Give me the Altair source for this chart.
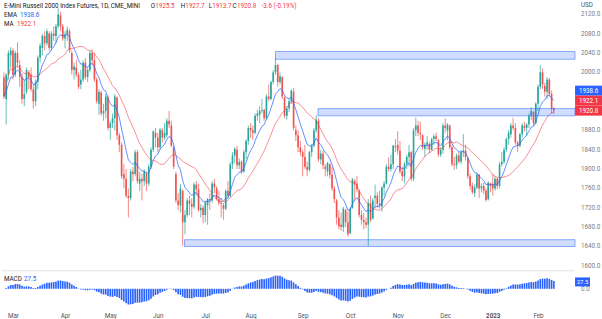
import altair as alt
import pandas as pd

# ---------------- data (daily OHLC, 23 Feb 2022 - 10 Feb 2023) ----------------
opens = [
    1990, 1945, 1995, 2035,
    2045, 1995, 2040, 2015, 1990, 1945, 1960, 2000, 1995, 1965, 1940, 1980, 2030, 2050, 2075, 2060, 2080, 2050, 2080, 2075, 2095, 2118, 2095,
    2070, 2078, 2085, 2040, 2005, 2010, 1995, 1975, 1985, 2020, 1990, 2005, 2040, 2025, 1985, 1935, 1958, 1915, 1920, 1948,
    1885, 1895, 1905, 1948, 1870, 1850, 1790, 1780, 1745, 1740, 1795, 1790, 1835, 1770, 1780, 1775, 1790, 1770, 1805, 1840, 1875,
    1865, 1845, 1880, 1865, 1870, 1900, 1890, 1845, 1790, 1735, 1725, 1755, 1690, 1705, 1735, 1728, 1722, 1768, 1758, 1715, 1720,
    1705, 1725, 1738, 1735, 1770, 1760, 1738, 1730, 1725, 1718, 1755, 1745, 1810, 1828, 1840, 1808, 1815, 1795, 1835, 1858,
    1885, 1880, 1875, 1910, 1912, 1920, 1922, 1905, 1950, 1945, 1980, 2000, 2015, 1980, 1990, 1948, 1910, 1925, 1940, 1960, 1880, 1870, 1845,
    1835, 1825, 1805, 1798, 1835, 1848, 1880, 1900, 1820, 1832, 1805, 1795, 1810, 1788, 1760, 1735, 1700, 1685, 1680, 1715, 1690,
    1668, 1720, 1775, 1770, 1755, 1705, 1695, 1690, 1685, 1730, 1698, 1740, 1745, 1728, 1722, 1762, 1770, 1805, 1800, 1810, 1848,
    1850, 1838, 1795, 1785, 1810, 1825, 1835, 1780, 1880, 1890, 1875, 1870, 1842, 1850, 1852, 1840, 1862, 1868, 1860, 1830, 1840,
    1890, 1880, 1890, 1845, 1810, 1808, 1828, 1815, 1835, 1838, 1822, 1785, 1765, 1750, 1762, 1788, 1760, 1765, 1755, 1738, 1770,
    1770, 1760, 1780, 1765, 1810, 1815, 1840, 1862, 1872, 1890, 1885, 1855, 1848, 1872, 1890, 1885, 1892, 1910, 1918, 1895,
    1935, 1970, 2000, 1972, 1960, 1985, 1955, 1925.5,
]
highs = [
    2000, 1998, 2045, 2052,
    2050, 2045, 2062, 2025, 1998, 1985, 2010, 2005, 2010, 1975, 1985, 2035, 2060, 2080, 2085, 2090, 2085, 2085, 2095, 2100, 2132, 2125, 2100,
    2085, 2095, 2090, 2045, 2020, 2025, 2000, 2005, 2025, 2030, 2010, 2045, 2048, 2040, 1990, 1965, 1962, 1935, 1955, 1952,
    1900, 1915, 1955, 1950, 1875, 1855, 1810, 1800, 1760, 1800, 1805, 1840, 1840, 1795, 1790, 1800, 1795, 1810, 1845, 1880, 1885,
    1875, 1885, 1885, 1895, 1905, 1920, 1900, 1848, 1795, 1750, 1770, 1758, 1715, 1740, 1745, 1740, 1772, 1775, 1770, 1728, 1725,
    1735, 1740, 1750, 1775, 1780, 1765, 1755, 1740, 1730, 1758, 1775, 1815, 1835, 1845, 1848, 1822, 1818, 1840, 1862, 1890,
    1895, 1890, 1915, 1922, 1930, 1945, 1925, 1955, 1975, 1982, 2005, 2030, 2018, 2000, 1992, 1950, 1930, 1945, 1965, 1968, 1890, 1880, 1858,
    1840, 1850, 1815, 1838, 1852, 1885, 1912, 1905, 1840, 1838, 1810, 1815, 1812, 1805, 1765, 1738, 1715, 1710, 1722, 1718, 1712,
    1722, 1782, 1780, 1785, 1758, 1715, 1710, 1700, 1738, 1745, 1740, 1768, 1752, 1755, 1765, 1775, 1810, 1825, 1830, 1850, 1862,
    1878, 1858, 1805, 1815, 1830, 1850, 1838, 1885, 1906, 1900, 1898, 1872, 1855, 1868, 1856, 1865, 1872, 1875, 1862, 1845, 1895,
    1905, 1895, 1892, 1850, 1825, 1832, 1835, 1840, 1872, 1850, 1825, 1790, 1772, 1768, 1792, 1790, 1770, 1772, 1760, 1775, 1772,
    1790, 1785, 1782, 1815, 1835, 1845, 1865, 1880, 1895, 1906, 1895, 1858, 1875, 1895, 1898, 1895, 1915, 1928, 1920, 1938,
    1975, 2015, 2008, 1978, 1990, 1988, 1962, 1927.7,
]
lows = [
    1945, 1892, 1985, 2010,
    1985, 1990, 2010, 1970, 1935, 1930, 1955, 1965, 1960, 1925, 1930, 1965, 2020, 2035, 2045, 2055, 2045, 2045, 2065, 2060, 2090, 2085, 2065,
    2050, 2065, 2040, 1995, 1985, 1990, 1965, 1965, 1980, 1985, 1980, 2000, 2015, 1980, 1935, 1912, 1910, 1900, 1905, 1880,
    1860, 1885, 1880, 1860, 1835, 1780, 1760, 1740, 1700, 1735, 1775, 1785, 1770, 1755, 1735, 1765, 1755, 1765, 1800, 1835, 1845,
    1835, 1840, 1855, 1860, 1865, 1885, 1845, 1800, 1730, 1715, 1710, 1641, 1665, 1700, 1705, 1700, 1718, 1745, 1712, 1700, 1688,
    1690, 1685, 1715, 1730, 1750, 1735, 1725, 1700, 1695, 1715, 1740, 1742, 1800, 1812, 1800, 1800, 1790, 1792, 1820, 1850,
    1865, 1860, 1872, 1900, 1895, 1915, 1900, 1902, 1940, 1942, 1975, 1995, 1970, 1975, 1945, 1905, 1902, 1918, 1935, 1880, 1858, 1835, 1828,
    1785, 1800, 1785, 1795, 1825, 1845, 1875, 1815, 1810, 1800, 1785, 1785, 1780, 1755, 1730, 1685, 1675, 1672, 1670, 1680, 1660,
    1665, 1718, 1735, 1752, 1700, 1685, 1675, 1678, 1641, 1690, 1695, 1720, 1720, 1718, 1712, 1745, 1768, 1795, 1795, 1800, 1835,
    1830, 1790, 1775, 1770, 1800, 1805, 1775, 1775, 1868, 1868, 1860, 1840, 1825, 1840, 1832, 1838, 1850, 1858, 1825, 1825, 1832,
    1875, 1860, 1840, 1805, 1798, 1800, 1812, 1810, 1825, 1818, 1780, 1758, 1748, 1742, 1758, 1740, 1752, 1748, 1732, 1735, 1752,
    1745, 1755, 1758, 1760, 1805, 1810, 1835, 1850, 1865, 1880, 1850, 1835, 1845, 1865, 1878, 1868, 1885, 1902, 1890, 1892,
    1920, 1965, 1965, 1950, 1945, 1950, 1915, 1913.7,
]
closes = [
    1950, 1995, 2040, 2045,
    1995, 2040, 2020, 1990, 1945, 1955, 2005, 1990, 1965, 1940, 1980, 2030, 2055, 2075, 2060, 2085, 2050, 2080, 2075, 2095, 2120, 2095, 2070,
    2078, 2088, 2045, 2005, 2012, 1995, 1970, 1985, 2020, 1990, 2005, 2040, 2025, 1985, 1940, 1960, 1915, 1920, 1950, 1885,
    1895, 1905, 1950, 1870, 1850, 1785, 1780, 1745, 1740, 1795, 1790, 1835, 1775, 1780, 1775, 1795, 1770, 1805, 1840, 1878, 1865,
    1845, 1882, 1865, 1875, 1900, 1892, 1848, 1805, 1735, 1725, 1760, 1690, 1705, 1735, 1728, 1722, 1768, 1758, 1715, 1720, 1705,
    1730, 1738, 1735, 1770, 1762, 1738, 1730, 1728, 1718, 1755, 1745, 1810, 1828, 1842, 1808, 1815, 1795, 1835, 1858, 1885,
    1880, 1875, 1910, 1915, 1920, 1922, 1905, 1950, 1945, 1980, 2000, 2015, 1980, 1992, 1950, 1910, 1925, 1940, 1962, 1885, 1870, 1845, 1835,
    1825, 1805, 1798, 1835, 1848, 1880, 1902, 1820, 1832, 1808, 1800, 1812, 1788, 1760, 1738, 1700, 1682, 1680, 1718, 1690, 1665,
    1718, 1778, 1770, 1758, 1705, 1695, 1690, 1685, 1730, 1695, 1735, 1745, 1728, 1725, 1762, 1770, 1805, 1800, 1810, 1848, 1845,
    1838, 1795, 1785, 1810, 1825, 1835, 1780, 1880, 1890, 1875, 1872, 1845, 1850, 1855, 1840, 1862, 1868, 1862, 1830, 1840, 1890,
    1885, 1892, 1845, 1810, 1808, 1828, 1815, 1835, 1838, 1825, 1785, 1765, 1752, 1762, 1788, 1760, 1765, 1755, 1736, 1772, 1765,
    1760, 1780, 1765, 1810, 1815, 1840, 1862, 1875, 1890, 1885, 1855, 1848, 1872, 1890, 1885, 1892, 1910, 1920, 1895, 1935,
    1970, 2000, 1975, 1960, 1985, 1955, 1924.4, 1920.8,
]
holidays = ["2022-04-15", "2022-05-30", "2022-06-20", "2022-07-04", "2022-09-05",
            "2022-11-24", "2022-12-26", "2023-01-02", "2023-01-16"]

month_names = ["Mar", "Apr", "May", "Jun", "Jul", "Aug", "Sep", "Oct", "Nov", "Dec", "2023", "Feb"]

# price-axis labels shown (those under the price tags are hidden, as in the reference)
price_ticks = [2120, 2080, 2040, 2000, 1880, 1840, 1800, 1760, 1720, 1680, 1640, 1600]

# horizontal zones (price bands) and the bar where each starts
zone_lo = [2027, 1910, 1640]
zone_hi = [2043, 1925, 1654]
zone_start = [120, 138.8, 79.8]

# header / legend values
legend_ema = "1938.6"
legend_ma = "1922.1"
legend_macd = "27.5"
tag_values = [1938.6, 1922.1, 1920.8]
macd_tag_value = 27.5

# ---------------- build tables ----------------
days = [d for d in pd.bdate_range("2022-02-23", "2023-02-10") if d.strftime("%Y-%m-%d") not in holidays]
n = min(len(days), len(opens), len(highs), len(lows), len(closes))
df = pd.DataFrame({"i": list(range(n)), "o": opens[:n], "h": highs[:n], "l": lows[:n], "c": closes[:n]})
df["dir"] = ["up" if c >= o else "down" for o, c in zip(df.o, df.c)]
df["x0"] = df.i - 0.36
df["x1"] = df.i + 0.36
df["ema"] = df.c.ewm(span=9, adjust=False).mean()
df["ma"] = df.c.rolling(20, min_periods=1).mean()
df["macd"] = df.c.ewm(span=12, adjust=False).mean() - df.c.ewm(span=26, adjust=False).mean()
df["zero"] = 0.0

month_idx = []
seen = set()
for k, d in enumerate(days[:n]):
    key = (d.year, d.month)
    if key not in seen:
        seen.add(key)
        if not (d.year == 2022 and d.month == 2):
            month_idx.append(k)
month_idx = month_idx[:len(month_names)]

X_MAX = 252.36
zones = pd.DataFrame({"lo": zone_lo, "hi": zone_hi, "s": zone_start, "e": [X_MAX] * 3})

GREEN = "#26a69a"
RED = "#ef5350"
TRED = "#f23645"
BLUE = "#2962ff"
DARK = "#131722"
AXIS = "#787b86"
FONT = "Roboto"
FS = 6.3

x_scale = alt.Scale(domain=[-1.28, X_MAX], nice=False, zero=False)
y_scale = alt.Scale(domain=[1593.8, 2148.9], nice=False, zero=False)
col = alt.Color("dir:N", scale=alt.Scale(domain=["up", "down"], range=[GREEN, RED]), legend=None)


def YP(field):
    return alt.Y(field, scale=y_scale, axis=None)


def XI(field):
    return alt.X(field, scale=x_scale, axis=None)


def label(txt, px, py, color, size=FS, align="left"):
    return alt.Chart(pd.DataFrame({"a": [0]})).mark_text(
        align=align, baseline="middle", fontSize=size, font=FONT, color=color).encode(
        x=alt.value(px), y=alt.value(py), text=alt.value(txt))


base = alt.Chart(df)
wicks = base.mark_rule(strokeWidth=0.7).encode(x=XI("i:Q"), y=YP("l:Q"), y2="h:Q", color=col)
bodies = base.mark_rect().encode(x=XI("x0:Q"), x2="x1:Q", y=YP("o:Q"), y2="c:Q", color=col)
ema_line = base.mark_line(color=BLUE, strokeWidth=0.8, opacity=0.9).encode(x=XI("i:Q"), y=YP("ema:Q"))
ma_line = base.mark_line(color=TRED, strokeWidth=0.8, opacity=0.7).encode(x=XI("i:Q"), y=YP("ma:Q"))
zone_rects = alt.Chart(zones).mark_rect(fill=BLUE, fillOpacity=0.22, stroke=BLUE,
                                        strokeOpacity=0.5, strokeWidth=1).encode(
    x=XI("s:Q"), x2="e:Q", y=YP("lo:Q"), y2="hi:Q")

# right price scale labels, placed through the price scale
pl_df = pd.DataFrame({"v": price_ticks, "lab": [f"{v:.1f}" for v in price_ticks]})
price_labels = alt.Chart(pl_df).mark_text(align="left", baseline="middle", fontSize=FS, font=FONT,
                                          color=AXIS).encode(
    x=alt.value(581), y=YP("v:Q"), text="lab:N")

# header texts (pixel-placed annotations)
hdr_rows = [
    ("E-Mini Russell 2000 Index Futures, 1D, CME_MINI", 3, 6, DARK),
    ("O", 150, 6, DARK), ("1925.5", 154.6, 6, TRED),
    ("H", 180, 6, DARK), ("1927.7", 184.6, 6, TRED),
    ("L", 208, 6, DARK), ("1913.7", 211.6, 6, TRED),
    ("C", 232, 6, DARK), ("1920.8", 236.4, 6, TRED),
    ("-3.6 (-0.19%)", 261, 6, TRED),
    ("EMA", 3, 14.8, DARK), (legend_ema, 19, 14.8, BLUE),
    ("MA", 3, 23.6, DARK), (legend_ma, 16, 23.6, TRED),
    ("USD", 581, 4.5, "#50535e"),
]
hdr_layers = [label(t, px, py, c) for t, px, py, c in hdr_rows]

# price tags on the right axis (stacked)
tag_df = pd.DataFrame({"v": tag_values, "lab": [f"{v:.1f}" for v in tag_values],
                       "col": [BLUE, TRED, TRED], "k": ["a", "b", "c"]})
tag_shape = "M-1,-0.37H1V0.37H-1Z"
tag_layers = []
for k, off in zip(["a", "b", "c"], [-11.4, -9.4, 0.0]):
    sub = alt.Chart(tag_df).transform_filter(f"datum.k == '{k}'")
    tag_layers.append(sub.mark_point(shape=tag_shape, filled=True, opacity=1, size=729, yOffset=off).encode(
        x=alt.value(588.5), y=YP("v:Q"), color=alt.Color("col:N", scale=None)))
    tag_layers.append(sub.mark_text(color="white", fontSize=FS, font=FONT, yOffset=off).encode(
        x=alt.value(588.5), y=YP("v:Q"), text="lab:N"))

top = alt.layer(wicks, bodies, ma_line, ema_line, zone_rects, price_labels, *hdr_layers,
                *tag_layers).properties(width=575, height=269)

# ---------------- MACD pane ----------------
m_scale = alt.Scale(domain=[-76, 72], nice=False, zero=False)
label_expr = ("[" + ",".join(f"'{m}'" for m in month_names) + "][indexof([" +
              ",".join(str(v) for v in month_idx) + "], datum.value)]")
x_axis = alt.Axis(values=month_idx, labelExpr=label_expr, domain=False, ticks=False, grid=False,
                  labelPadding=5, labelFontSize=FS, labelColor="#50535e", labelFont=FONT, title=None,
                  labelOverlap=False,
                  labelFontWeight={"condition": {"test": f"datum.value == {month_idx[10]}", "value": "bold"},
                                   "value": "normal"})


def YM(field):
    return alt.Y(field, scale=m_scale, axis=None)


macd_bars = base.mark_rect(color=BLUE).encode(
    x=alt.X("x0:Q", scale=x_scale, axis=x_axis), x2="x1:Q", y=YM("zero:Q"), y2="macd:Q")
sep = alt.Chart(pd.DataFrame({"a": [0]})).mark_rule(color="#e0e3eb", strokeWidth=1).encode(
    x=alt.value(0), x2=alt.value(575), y=alt.value(0))
m_labels = [label("MACD", 3, 8, DARK), label(legend_macd, 23, 8, BLUE)]
zero_df = pd.DataFrame({"v": [0.0], "lab": ["0.0"]})
zero_label = alt.Chart(zero_df).mark_text(align="left", baseline="middle", fontSize=FS, font=FONT,
                                          color=AXIS).encode(
    x=alt.value(581), y=YM("v:Q"), text="lab:N")
mtag_df = pd.DataFrame({"v": [macd_tag_value], "lab": [legend_macd]})
m_tag = alt.Chart(mtag_df).mark_point(shape="M-1,-0.6H1V0.6H-1Z", filled=True, opacity=1, size=225,
                                      color=BLUE).encode(x=alt.value(582.5), y=YM("v:Q"))
m_tag_text = alt.Chart(mtag_df).mark_text(color="white", fontSize=6, font=FONT).encode(
    x=alt.value(582.5), y=YM("v:Q"), text="lab:N")

bottom = alt.layer(macd_bars, sep, *m_labels, zero_label, m_tag, m_tag_text).properties(
    width=575, height=37)

chart = alt.vconcat(top, bottom, spacing=0, padding=0, background="white").configure_view(stroke=None)

chart.save("out.html", embed_options={"renderer": "svg", "actions": False})
